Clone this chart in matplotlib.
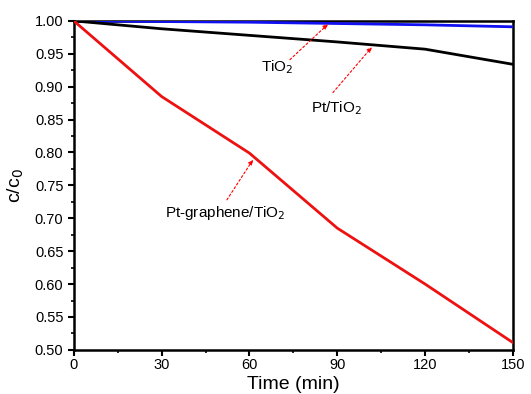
import matplotlib.pyplot as plt
from matplotlib.ticker import MultipleLocator

plt.rcParams['font.family'] = ['Liberation Sans', 'DejaVu Sans']

time_min = [0, 30, 60, 90, 120, 150]
tio2 = [1.000, 0.999, 0.998, 0.996, 0.994, 0.991]
pt_tio2 = [1.000, 0.988, 0.978, 0.968, 0.957, 0.934]
pt_graphene_tio2 = [1.000, 0.885, 0.799, 0.685, 0.600, 0.511]

fig = plt.figure(figsize=(5.31, 3.94), dpi=100)
ax = fig.add_axes([0.139, 0.112, 0.827, 0.835])

ax.plot(time_min, tio2, color='#1010f0', linewidth=2, zorder=3)
ax.plot(time_min, pt_tio2, color='black', linewidth=2, zorder=3)
ax.plot(time_min, pt_graphene_tio2, color='#ee1111', linewidth=2, zorder=3)

ax.set_xlim(0, 150)
ax.set_ylim(0.50, 1.00)
ax.xaxis.set_major_locator(MultipleLocator(30))
ax.xaxis.set_minor_locator(MultipleLocator(15))
ax.yaxis.set_major_locator(MultipleLocator(0.05))
ax.yaxis.set_minor_locator(MultipleLocator(0.025))
ax.yaxis.set_major_formatter(plt.FormatStrFormatter('%.2f'))
ax.tick_params(which='major', direction='out', length=4, width=1.5, labelsize=10.5)
ax.tick_params(which='minor', direction='out', length=2.5, width=1.2)
ax.tick_params(axis='x', pad=2)
for s in ax.spines.values():
    s.set_linewidth(1.8)

ax.set_xlabel('Time (min)', fontsize=14, labelpad=3)
ax.set_ylabel('c/c$_0$', fontsize=14, labelpad=6)

arrow = dict(arrowstyle='-|>', color='red', linestyle=(0, (2, 2)), linewidth=0.8,
             mutation_scale=7, shrinkA=0, shrinkB=0)
ax.annotate('', xy=(86.8, 0.995), xytext=(73.8, 0.941), arrowprops=arrow)
ax.annotate('', xy=(101.8, 0.960), xytext=(88.5, 0.891), arrowprops=arrow)
ax.annotate('', xy=(61.2, 0.789), xytext=(52.3, 0.728), arrowprops=arrow)
ax.text(69.5, 0.929, 'TiO$_2$', fontsize=11, ha='center', va='center')
ax.text(89.9, 0.868, 'Pt/TiO$_2$', fontsize=11, ha='center', va='center')
ax.text(51.6, 0.708, 'Pt-graphene/TiO$_2$', fontsize=11, ha='center', va='center')

fig.savefig('out.png', dpi=100)
